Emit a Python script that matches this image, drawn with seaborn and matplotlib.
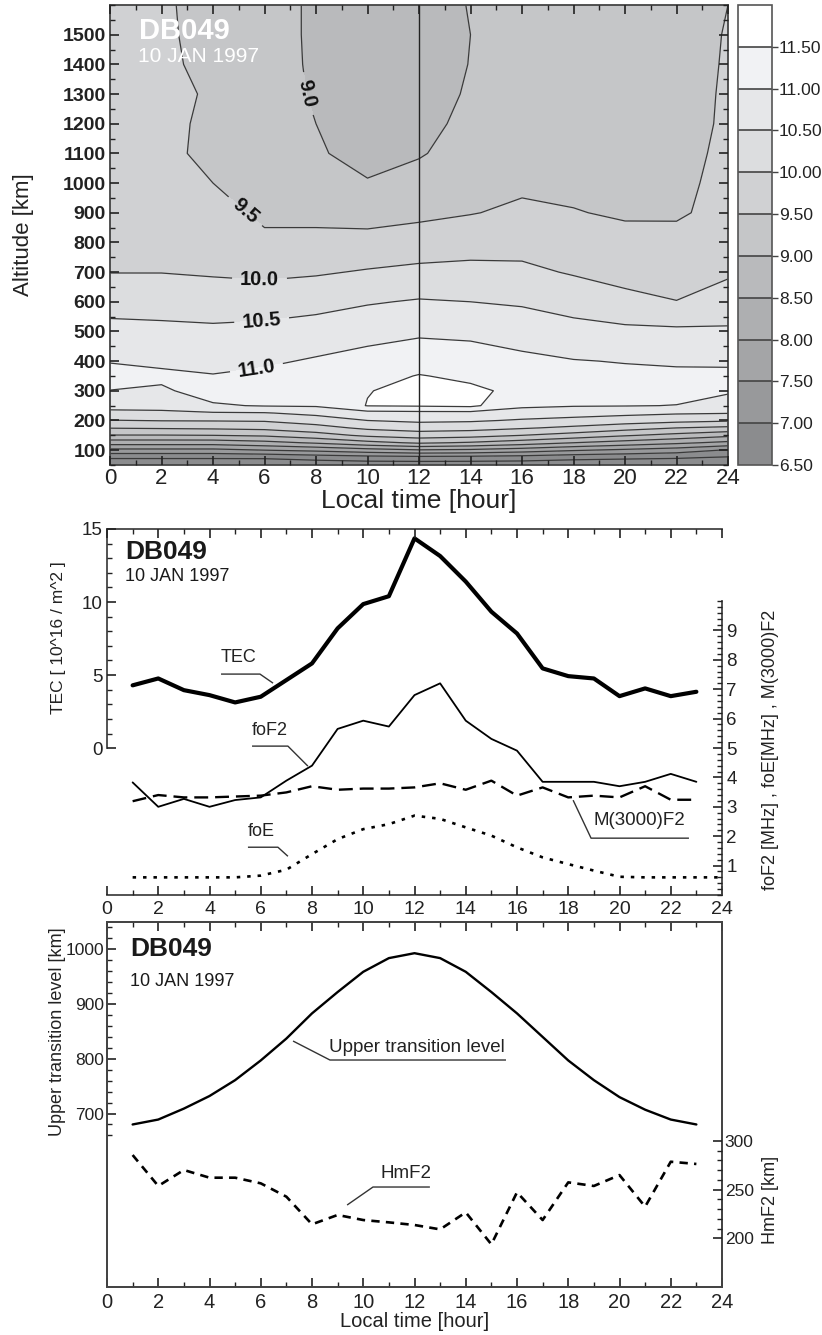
import numpy as np
import matplotlib
matplotlib.use("Agg")
import matplotlib.pyplot as plt
import seaborn as sns
from matplotlib.colors import ListedColormap, BoundaryNorm
from matplotlib.cm import ScalarMappable
from matplotlib.ticker import MultipleLocator, FixedLocator

# ---------------- data ----------------
# log10 electron density, rows = altitude, columns = local time
grid_hours = [0, 2, 4, 6, 8, 10, 12, 14, 16, 18, 20, 22, 24]
grid_alt = [50, 75, 100, 125, 150, 175, 200, 225, 250, 300, 350, 400, 500,
            600, 700, 800, 900, 1000, 1100, 1200, 1300, 1400, 1500, 1600]
log_ne = [
    [6.10, 6.10, 6.10, 6.10, 6.15, 6.20, 6.20, 6.20, 6.20, 6.15, 6.10, 6.10, 6.10],
    [6.56, 6.56, 6.56, 6.57, 6.69, 6.78, 6.82, 6.80, 6.75, 6.65, 6.60, 6.55, 6.45],
    [7.36, 7.36, 7.36, 7.50, 7.62, 7.80, 7.95, 7.90, 7.75, 7.55, 7.40, 7.25, 6.95],
    [8.22, 8.22, 8.22, 8.35, 8.56, 8.85, 9.07, 8.95, 8.75, 8.50, 8.30, 8.10, 7.88],
    [8.98, 8.98, 9.00, 9.07, 9.29, 9.60, 9.75, 9.68, 9.50, 9.30, 9.05, 8.85, 8.62],
    [9.52, 9.55, 9.58, 9.63, 9.82, 10.10, 10.22, 10.18, 10.05, 9.90, 9.70, 9.50, 9.39],
    [9.98, 10.02, 10.03, 10.05, 10.23, 10.50, 10.59, 10.56, 10.45, 10.35, 10.25, 10.15, 10.06],
    [10.40, 10.42, 10.45, 10.47, 10.63, 10.82, 10.85, 10.85, 10.75, 10.70, 10.62, 10.55, 10.52],
    [10.63, 10.64, 10.95, 11.03, 11.05, 11.52, 11.55, 11.60, 11.10, 11.03, 11.02, 10.99, 10.72],
    [10.99, 10.93, 11.20, 11.25, 11.35, 11.48, 11.65, 11.58, 11.40, 11.25, 11.20, 11.15, 11.08],
    [11.20, 11.10, 11.02, 11.10, 11.20, 11.35, 11.52, 11.42, 11.25, 11.15, 11.10, 11.08, 11.07],
    [10.97, 10.90, 10.87, 10.93, 11.05, 11.18, 11.32, 11.25, 11.10, 11.02, 10.98, 10.95, 10.95],
    [10.64, 10.61, 10.59, 10.63, 10.71, 10.82, 10.91, 10.88, 10.80, 10.67, 10.61, 10.59, 10.57],
    [10.32, 10.31, 10.26, 10.27, 10.34, 10.46, 10.54, 10.50, 10.44, 10.30, 10.13, 10.01, 10.20],
    [9.99, 9.99, 9.95, 9.90, 9.95, 10.04, 10.12, 10.14, 10.10, 9.96, 9.84, 9.80, 9.94],
    [9.88, 9.86, 9.80, 9.58, 9.60, 9.65, 9.71, 9.79, 9.83, 9.74, 9.63, 9.60, 9.80],
    [9.80, 9.77, 9.65, 9.42, 9.40, 9.32, 9.40, 9.48, 9.58, 9.52, 9.45, 9.46, 9.60],
    [9.75, 9.70, 9.50, 9.35, 9.15, 9.03, 9.18, 9.30, 9.42, 9.40, 9.38, 9.40, 9.62],
    [9.70, 9.64, 9.36, 9.30, 9.05, 8.85, 8.96, 9.20, 9.35, 9.33, 9.33, 9.38, 9.58],
    [9.68, 9.60, 9.42, 9.25, 9.00, 8.80, 8.88, 9.10, 9.30, 9.30, 9.30, 9.37, 9.55],
    [9.65, 9.57, 9.47, 9.22, 8.95, 8.78, 8.84, 9.04, 9.27, 9.28, 9.28, 9.37, 9.54],
    [9.62, 9.53, 9.46, 9.20, 8.93, 8.76, 8.82, 9.01, 9.25, 9.26, 9.27, 9.36, 9.53],
    [9.60, 9.52, 9.46, 9.20, 8.92, 8.75, 8.80, 9.00, 9.24, 9.25, 9.26, 9.36, 9.52],
    [9.60, 9.52, 9.45, 9.20, 8.92, 8.75, 8.80, 9.02, 9.24, 9.25, 9.26, 9.36, 9.50],
]

hours = list(range(1, 24))
tec = [4.3, 4.77, 3.97, 3.63, 3.13, 3.52, 4.66, 5.8, 8.2, 9.86, 10.4, 14.36,
       13.15, 11.4, 9.34, 7.85, 5.46, 4.93, 4.77, 3.56, 4.09, 3.56, 3.86]
fof2 = [3.83, 3.0, 3.27, 3.0, 3.23, 3.32, 3.89, 4.4, 5.65, 5.93, 5.73, 6.8,
        7.2, 5.93, 5.31, 4.91, 3.85, 3.85, 3.85, 3.7, 3.85, 4.12, 3.85]
m3000f2 = [3.19, 3.4, 3.32, 3.32, 3.35, 3.38, 3.49, 3.7, 3.58, 3.62, 3.62, 3.66,
           3.8, 3.58, 3.89, 3.38, 3.66, 3.32, 3.38, 3.32, 3.7, 3.24, 3.24]
foe_hours = list(range(1, 25))
foe = [0.6, 0.6, 0.6, 0.6, 0.6, 0.66, 0.86, 1.39, 1.9, 2.24, 2.41, 2.7,
       2.59, 2.3, 2.02, 1.62, 1.28, 1.05, 0.83, 0.62, 0.6, 0.6, 0.6, 0.6]

utl = [680, 689, 709, 732, 761, 797, 837, 883, 922, 959, 984, 993,
       984, 959, 922, 883, 840, 797, 761, 730, 707, 689, 680]
hmf2 = [285.6, 253.8, 270.2, 262.3, 262.3, 256.5, 242.8, 214.4, 224.0, 218.8,
        216.4, 213.7, 209.2, 226.7, 193.8, 247.3, 218.8, 257.5, 253.8, 265.0,
        232.5, 278.7, 276.4]

cbar_levels = [6.5, 7.0, 7.5, 8.0, 8.5, 9.0, 9.5, 10.0, 10.5, 11.0, 11.5, 12.0]
label_levels = [9.0, 9.5, 10.0, 10.5, 11.0]
band_colors = ['#8b8c8e', '#98999b', '#a4a5a7', '#aeafb1', '#b9babc', '#c5c6c8',
               '#d0d1d3', '#dcdddf', '#e6e7e9', '#f1f2f4', '#ffffff']

# ---------------- style ----------------
sns.set_theme(style="ticks")
plt.rcParams['font.family'] = ['Liberation Sans', 'DejaVu Sans']
plt.rcParams['lines.scale_dashes'] = False
plt.rcParams['axes.axisbelow'] = False
plt.rcParams['axes.edgecolor'] = '#444444'
plt.rcParams['axes.linewidth'] = 1.3
plt.rcParams['xtick.color'] = '#222222'
plt.rcParams['ytick.color'] = '#222222'
plt.rcParams['xtick.labelcolor'] = '#222222'
plt.rcParams['ytick.labelcolor'] = '#222222'
plt.rcParams['axes.labelcolor'] = '#222222'

W, H = 822, 1335
fig = plt.figure(figsize=(W / 100, H / 100), dpi=100)


def box(l, t, r, b):
    return [l / W, 1 - b / H, (r - l) / W, (b - t) / H]


def set_ticks_in(ax, axis='both', **kw):
    ax.tick_params(axis=axis, which='major', direction='in', length=6.5, width=1.2, **kw)
    ax.tick_params(axis=axis, which='minor', direction='in', length=3.8, width=1.0, **kw)


# ---------------- top: contour ----------------
ax1 = fig.add_axes(box(110, 5, 728, 465))
ax1.set_axisbelow(False)
T, A = np.meshgrid(grid_hours, grid_alt)
Z = np.array(log_ne)
ax1.contourf(T, A, Z, levels=[5.5] + cbar_levels,
             colors=[band_colors[0]] + band_colors)
plain_levels = [v for v in cbar_levels[:-1] if v not in label_levels]
ax1.contour(T, A, Z, levels=plain_levels, colors='#3a3a3a', linewidths=0.9)
cs_lab = ax1.contour(T, A, Z, levels=label_levels, colors='#3a3a3a', linewidths=0.9)
labels = ax1.clabel(cs_lab, fmt='%.1f', fontsize=14.5, inline=True, inline_spacing=8,
                    manual=[(7.6, 1300), (5.0, 880), (5.8, 665), (5.9, 520), (5.7, 370)])
for t in labels:
    t.set_fontweight('bold')
    t.set_color('#111111')
ax1.axvline(12, color='#222222', lw=1.0)

ax1.set_xlim(0, 24)
ax1.set_ylim(50, 1600)
ax1.set_xticks(range(0, 25, 2))
ax1.xaxis.set_minor_locator(MultipleLocator(1))
ax1.set_yticks(range(100, 1501, 100))
ax1.yaxis.set_minor_locator(MultipleLocator(50))
set_ticks_in(ax1, top=True, right=True)
ax1.tick_params(axis='x', labelsize=16, pad=2)
ax1.tick_params(axis='y', labelsize=14, pad=3)
for lbl in ax1.get_yticklabels():
    lbl.set_fontweight('bold')
ax1.set_xlabel('Local time [hour]', fontsize=19, labelpad=0)
ax1.set_ylabel('Altitude [km]', fontsize=16)
ax1.yaxis.set_label_coords(-0.123, 0.5)
ax1.text(0.047, 0.943, 'DB049', transform=ax1.transAxes, color='white',
         fontsize=21, fontweight='bold', va='center')
ax1.text(0.046, 0.887, '10 JAN 1997', transform=ax1.transAxes, color='white',
         fontsize=15, va='center')

cax = fig.add_axes(box(738, 5, 772, 465))
sm = ScalarMappable(norm=BoundaryNorm(cbar_levels, len(band_colors)),
                    cmap=ListedColormap(band_colors))
cb = fig.colorbar(sm, cax=cax, ticks=cbar_levels[:-1], drawedges=True, format='%.2f')
cb.dividers.set_color('#444444')
cb.dividers.set_linewidth(1.2)
cb.outline.set_edgecolor('#555555')
cb.outline.set_linewidth(1.2)
cax.tick_params(length=4, width=1, direction='out', labelsize=12.5, pad=1,
                color='#444444')
cax.minorticks_off()

# ---------------- middle: TEC / frequencies ----------------
ax2 = fig.add_axes(box(107, 529, 722, 895))
ax2r = ax2.twinx()
sns.lineplot(x=hours, y=tec, ax=ax2, color='black', linewidth=3.0)
sns.lineplot(x=hours, y=fof2, ax=ax2r, color='black', linewidth=1.3)
sns.lineplot(x=hours, y=m3000f2, ax=ax2r, color='black', linewidth=1.7)
ax2r.lines[-1].set_dashes([10, 5])
sns.lineplot(x=foe_hours, y=foe, ax=ax2r, color='black', linewidth=1.9)
ax2r.lines[-1].set_dashes([2.5, 5])

ax2.set_xlim(0, 24)
ax2.set_ylim(-10.05, 15)
ax2r.set_ylim(0, 12.45)
ax2.spines['right'].set_visible(False)
ax2.spines['left'].set_bounds(0, 15)
for s in ['left', 'top', 'bottom']:
    ax2r.spines[s].set_visible(False)
ax2r.spines['right'].set_bounds(0, 10)
ax2.set_xticks(range(0, 25, 2))
ax2.xaxis.set_minor_locator(MultipleLocator(1))
ax2.set_yticks([0, 5, 10, 15])
ax2.yaxis.set_minor_locator(FixedLocator(np.arange(0, 15.5, 1)))
ax2r.set_yticks(range(1, 10))
ax2r.yaxis.set_minor_locator(FixedLocator(np.arange(0, 10.01, 0.2)))
set_ticks_in(ax2, axis='x', top=True)
set_ticks_in(ax2, axis='y', left=True, right=False)
set_ticks_in(ax2r, axis='y', right=True, left=False)
ax2.tick_params(axis='x', labelsize=14, pad=4)
ax2.tick_params(axis='y', labelsize=13.5, pad=3)
ax2r.tick_params(axis='y', labelsize=13.5, pad=3)
ax2.set_xlabel('')
ax2.set_ylabel('TEC [ 10^16 / m^2 ]', fontsize=12.5)
ax2.yaxis.set_label_coords(-0.066, 0.702)
ax2r.set_ylabel('foF2 [MHz] , foE[MHz] , M(3000)F2', fontsize=13)
ax2r.yaxis.set_label_coords(1.065, 0.396)
ax2.text(0.029, 0.937, 'DB049', transform=ax2.transAxes, fontsize=19,
         fontweight='bold', va='center', color='#1a1a1a')
ax2.text(0.029, 0.869, '10 JAN 1997', transform=ax2.transAxes, fontsize=13,
         va='center', color='#1a1a1a')

# labels with leader lines (TEC-axis coordinates)
lead = dict(color='#333333', lw=1.0, solid_capstyle='butt')
ax2.text(4.45, 5.6, 'TEC', fontsize=13, va='bottom', ha='left', color='#222222')
ax2.plot([4.45, 5.97, 6.48], [5.07, 5.07, 4.45], **lead)
ax2.text(5.66, 0.62, 'foF2', fontsize=13, va='bottom', ha='left', color='#222222')
ax2.plot([5.66, 7.06, 7.84], [0.14, 0.14, -1.23], **lead)
ax2.text(5.5, -6.3, 'foE', fontsize=13, va='bottom', ha='left', color='#222222')
ax2.plot([5.5, 6.67, 7.06], [-6.78, -6.78, -7.4], **lead)
ax2.text(18.97, -5.55, 'M(3000)F2', fontsize=13.5, va='bottom', ha='left', color='#222222')
ax2.plot([22.71, 18.89, 18.19], [-6.16, -6.16, -3.56], **lead)

# ---------------- bottom: transition level / hmF2 ----------------
ax3 = fig.add_axes(box(107, 922, 722, 1287))
ax3r = ax3.twinx()
sns.lineplot(x=hours, y=utl, ax=ax3, color='black', linewidth=1.7)
sns.lineplot(x=hours, y=hmf2, ax=ax3r, color='black', linewidth=1.9)
ax3r.lines[-1].set_dashes([6, 4.5])

ax3.set_xlim(0, 24)
ax3.set_ylim(383, 1050)
ax3r.set_ylim(150, 525)
ax3.set_xticks(range(0, 25, 2))
ax3.xaxis.set_minor_locator(MultipleLocator(1))
ax3.set_yticks([700, 800, 900, 1000])
ax3.yaxis.set_minor_locator(FixedLocator(np.arange(660, 1041, 20)))
ax3r.set_yticks([200, 250, 300])
ax3r.yaxis.set_minor_locator(FixedLocator(np.arange(200, 301, 10)))
set_ticks_in(ax3, axis='x', top=True)
set_ticks_in(ax3, axis='y', left=True, right=False)
set_ticks_in(ax3r, axis='y', right=True, left=False)
ax3.tick_params(axis='x', labelsize=14.5, pad=4)
ax3.tick_params(axis='y', labelsize=12.5, pad=2)
ax3r.tick_params(axis='y', labelsize=12.5, pad=2)
ax3.set_xlabel('Local time [hour]', fontsize=14.5, labelpad=0)
ax3.set_ylabel('Upper transition level [km]', fontsize=13)
ax3.yaxis.set_label_coords(-0.066, 0.699)
ax3r.set_ylabel('HmF2 [km]', fontsize=13)
ax3r.yaxis.set_label_coords(1.065, 0.238)
ax3.text(0.037, 0.926, 'DB049', transform=ax3.transAxes, fontsize=19,
         fontweight='bold', va='center', color='#1a1a1a')
ax3.text(0.037, 0.838, '10 JAN 1997', transform=ax3.transAxes, fontsize=13,
         va='center', color='#1a1a1a')

ax3.text(8.66, 806, 'Upper transition level', fontsize=13.5, va='bottom',
         ha='left', color='#222222')
ax3.plot([15.57, 8.70, 7.26], [797.8, 797.8, 832.5], **lead)
ax3.text(10.69, 574, 'HmF2', fontsize=13.5, va='bottom', ha='left', color='#222222')
ax3.plot([12.6, 10.38, 9.37], [565.7, 565.7, 532.8], **lead)

fig.savefig('out.png', dpi=100)
